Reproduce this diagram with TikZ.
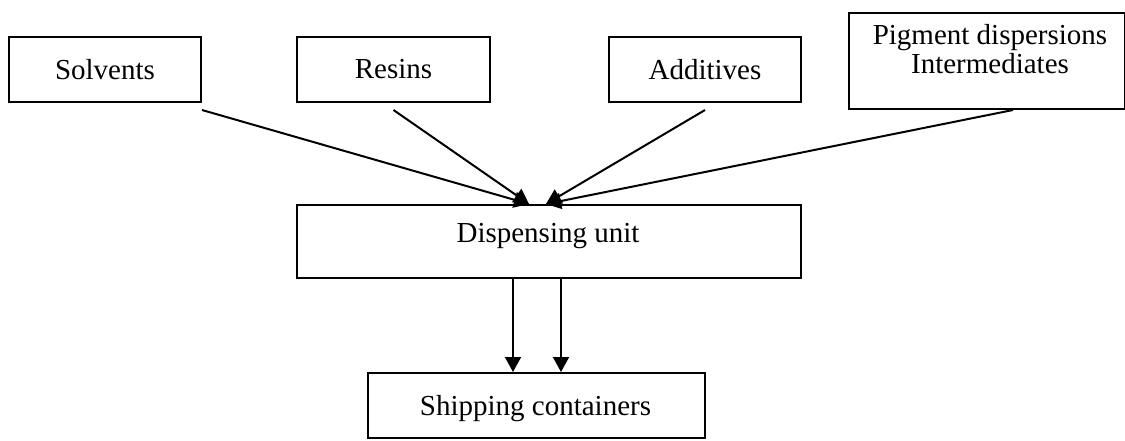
\documentclass[tikz,border=0pt]{standalone}
\usepackage{fontspec}
\setmainfont{Liberation Serif}
\usetikzlibrary{arrows.meta,calc}
\begin{document}
\begin{tikzpicture}[x=1pt,y=-1pt,
  box/.style={draw=black,line width=2pt,rectangle,inner sep=0pt,anchor=north west,
    font=\fontsize{29}{27}\selectfont,align=center},
  lbl/.style={inner sep=0pt,anchor=base,font=\fontsize{29}{27}\selectfont},
  arr/.style={draw=black,line width=2pt,-{Triangle[length=15pt,width=16pt]}}]
\useasboundingbox (0,0) rectangle (1125,440);
\node[box,minimum width=192pt,minimum height=65pt] (solv) at (8,36) {Solvents};
\node[box,minimum width=193pt,minimum height=65pt] (res) at (296,36) {Resins};
\node[box,minimum width=192pt,minimum height=65pt] (add) at (608,36) {Additives};
\node[box,minimum width=276pt,minimum height=96pt] (pig) at (848,12) {};
\node[lbl] (pigA) at (990,44) {Pigment dispersions};
\node[lbl] (pigB) at (990,73) {Intermediates};
\node[box,minimum width=504pt,minimum height=73pt] (disp) at (296,204) {};
\node[lbl] (dispT) at (548,242) {Dispensing unit};
\node[box,minimum width=337pt,minimum height=65pt] (ship) at (367,372) {};
\node[lbl] (shipT) at (535.5,415) {Shipping containers};
\coordinate (tipL) at ($(disp.north)+(-20,0)$);
\coordinate (tipR) at ($(disp.north)+(-3,0)$);
\draw[arr] ($(solv.south east)+(0,7)$) -- (tipL);
\draw[arr] ($(res.south)+(0,7)$) -- (tipL);
\draw[arr] ($(add.south)+(0,7)$) -- (tipR);
\draw[arr] ($(pig.south)+(26,0)$) -- (tipR);
\draw[arr] ($(disp.south)+(-36,0)$) -- ($(ship.north)+(-23.5,0)$);
\draw[arr] ($(disp.south)+(12,0)$) -- ($(ship.north)+(24.5,0)$);
\end{tikzpicture}
\end{document}
